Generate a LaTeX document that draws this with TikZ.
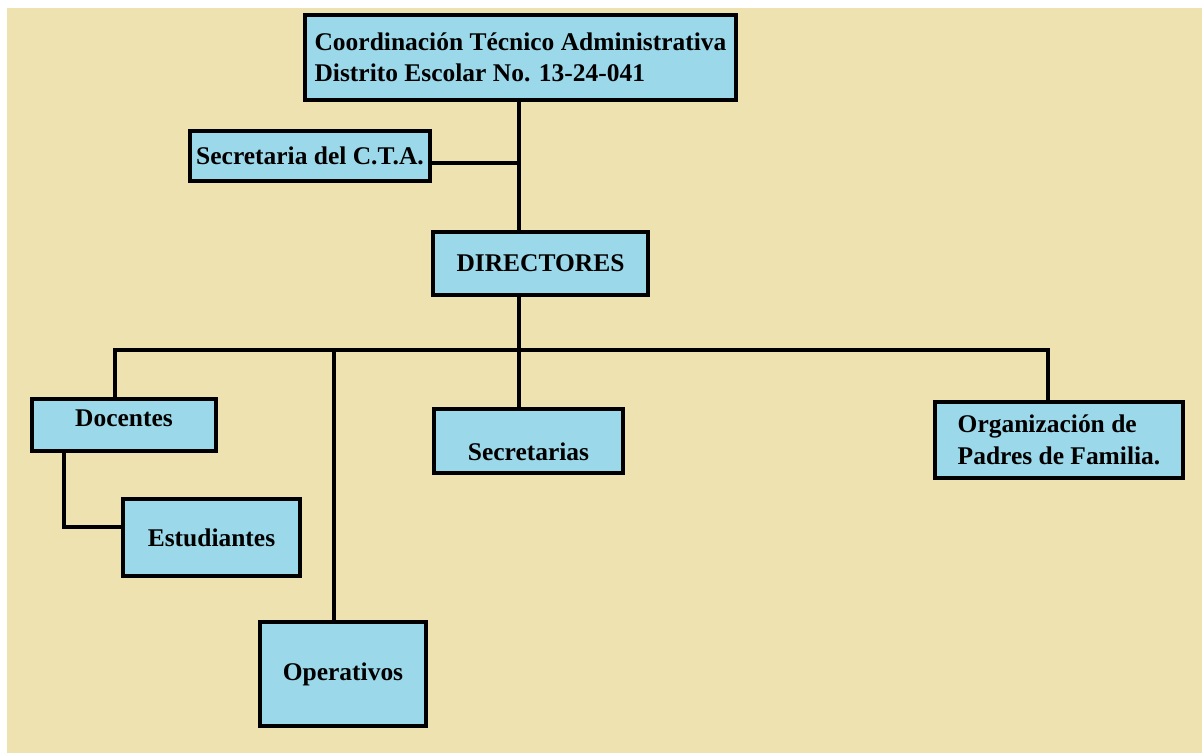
\documentclass[tikz,border=0pt]{standalone}
\usepackage{fontspec}
\setmainfont{Liberation Serif}
\definecolor{fondo}{RGB}{238,226,176}
\definecolor{celeste}{RGB}{155,216,234}
\begin{document}
\begin{tikzpicture}[x=0.02cm,y=-0.02cm,
		caja/.style={draw=black,line width=2.2pt,fill=celeste,inner sep=0pt,font=\fontsize{14.5}{18}\selectfont\bfseries},
		linea/.style={line width=2.2pt}]
			\fill[white] (0,0) rectangle (1202,753);
			\fill[fondo] (7,8) rectangle (1202,753);
			
			\node[caja,minimum width=8.62cm,minimum height=1.7cm,align=left] (coord) at (520.5,57.5) {Coordinación Técnico Administrativa\\Distrito Escolar No. 13-24-041};
			\node[caja,minimum width=4.8cm,minimum height=1.0cm] (secCTA) at (310,156) {Secretaria del C.T.A.};
			\node[caja,minimum width=4.3cm,minimum height=1.26cm] (directores) at (540.5,263.5) {DIRECTORES};
			\node[caja,minimum width=3.78cm,minimum height=1.28cm,text height=22pt,text depth=0pt] (secretarias) at (528.5,441) {Secretarias\hspace{0.24cm}};
			\node[caja,minimum width=3.68cm,minimum height=1.04cm,text height=5pt,text depth=3.4pt] (docentes) at (124,425) {Docentes\hspace{0.28cm}};
			\node[caja,minimum width=3.54cm,minimum height=1.54cm] (estudiantes) at (211.5,537.5) {Estudiantes};
			\node[caja,minimum width=3.32cm,minimum height=2.08cm] (operativos) at (343,674) {Operativos};
			\node[caja,minimum width=4.96cm,minimum height=1.52cm,align=left] (padres) at (1059,440) {Organización de\\Padres de Familia.};
			
			\coordinate (jsec) at (519,163);
			\coordinate (bus) at (519,350);
			\coordinate (busizq) at (115,350);
			\coordinate (busope) at (334,350);
			\coordinate (busder) at (1048,350);
			\coordinate (codo) at (64,527);
			
			\draw[linea] (bus |- coord.south) -- (bus |- directores.north);
			\draw[linea] (secCTA.east |- jsec) -- (jsec);
			\draw[linea] (bus |- directores.south) -- (bus |- secretarias.north);
			\draw[linea] (busizq |- docentes.north) -- (busizq) -- (busder) -- (busder |- padres.north);
			\draw[linea] (busope) -- (busope |- operativos.north);
			\draw[linea] (codo |- docentes.south) -- (codo) -- (codo -| estudiantes.west);
		\end{tikzpicture}
\end{document}
